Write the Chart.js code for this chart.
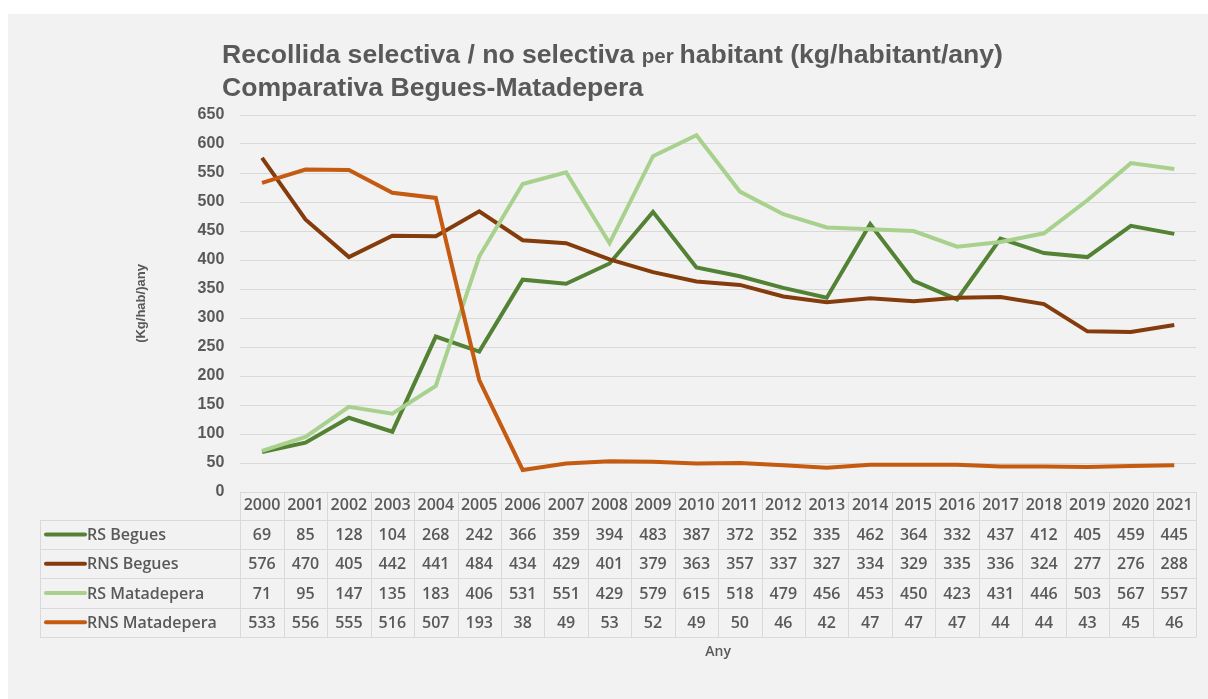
<!DOCTYPE html>
<html>
<head>
<meta charset="utf-8">
<script src="https://cdn.jsdelivr.net/npm/chart.js@4.4.1/dist/chart.umd.min.js"></script>
<style>
  html, body { margin: 0; padding: 0; background: #fff; }
  #wrap { position: absolute; left: 0; top: 0; width: 1208px; height: 699px; }
</style>
</head>
<body>
<div id="wrap"><canvas id="chart" width="1208" height="699"></canvas></div>
<script>
const years = ["2000", "2001", "2002", "2003", "2004", "2005", "2006", "2007", "2008", "2009", "2010",
  "2011", "2012", "2013", "2014", "2015", "2016", "2017", "2018", "2019", "2020", "2021"];
const rsBegues = [69, 85, 128, 104, 268, 242, 366, 359, 394, 483, 387, 372, 352, 335, 462, 364, 332, 437, 412, 405, 459, 445];
const rnsBegues = [576, 470, 405, 442, 441, 484, 434, 429, 401, 379, 363, 357, 337, 327, 334, 329, 335, 336, 324, 277, 276, 288];
const rsMatadepera = [71, 95, 147, 135, 183, 406, 531, 551, 429, 579, 615, 518, 479, 456, 453, 450, 423, 431, 446, 503, 567, 557];
const rnsMatadepera = [533, 556, 555, 516, 507, 193, 38, 49, 53, 52, 49, 50, 46, 42, 47, 47, 47, 44, 44, 43, 45, 46];

const seriesNames = ["RS Begues", "RNS Begues", "RS Matadepera", "RNS Matadepera"];
const seriesData = [rsBegues, rnsBegues, rsMatadepera, rnsMatadepera];
const seriesColors = ["#548235", "#843c0c", "#a9d18e", "#c55a11"];

const yMax = 650;
const yStep = 50;

const titleLine1 = ["Recollida selectiva / no selectiva ", "per ", "habitant (kg/habitant/any)"];
const titleLine2 = "Comparativa Begues-Matadepera";
const yTitle = "(Kg/hab/)any";
const xTitle = "Any";

const textColor = "#595959";
const gridColor = "#d9d9d9";
const tableFont = "600 16px 'Open Sans'";

const background = {
  id: "background",
  beforeDraw(chart) {
    const ctx = chart.ctx;
    ctx.save();
    ctx.fillStyle = "#ffffff";
    ctx.fillRect(0, 0, chart.width, chart.height);
    ctx.fillStyle = "#f2f2f2";
    ctx.fillRect(8, 14, chart.width - 8, chart.height - 14);
    ctx.restore();
  }
};

const titleBlock = {
  id: "titleBlock",
  afterDraw(chart) {
    const ctx = chart.ctx;
    ctx.save();
    ctx.fillStyle = textColor;
    ctx.textBaseline = "alphabetic";
    ctx.textAlign = "left";
    const big = "bold 26.6px 'Liberation Sans', Arial, sans-serif";
    const small = "bold 20.5px 'Liberation Sans', Arial, sans-serif";
    let x = 222;
    titleLine1.forEach((part, i) => {
      ctx.font = i === 1 ? small : big;
      ctx.fillText(part, x, 63);
      x += ctx.measureText(part).width;
    });
    ctx.font = big;
    ctx.fillText(titleLine2, 222, 96);
    ctx.restore();
  }
};

const dataTable = {
  id: "dataTable",
  afterDraw(chart) {
    const ctx = chart.ctx;
    const xs = chart.scales.x;
    const area = chart.chartArea;
    const colW = xs.getPixelForValue(1) - xs.getPixelForValue(0);
    const top = area.bottom;
    const headH = 28;
    const rowH = 29.2;
    const legendLeft = 40;
    const bottom = top + headH + rowH * seriesNames.length;

    ctx.save();
    ctx.strokeStyle = gridColor;
    ctx.lineWidth = 1;
    ctx.beginPath();
    ctx.moveTo(area.left, Math.round(top) + 0.5);
    ctx.lineTo(area.right, Math.round(top) + 0.5);
    for (let i = 0; i <= seriesNames.length; i++) {
      const y = Math.round(top + headH + i * rowH) + 0.5;
      ctx.moveTo(legendLeft, y);
      ctx.lineTo(area.right, y);
    }
    for (let j = 0; j <= years.length; j++) {
      const x = Math.round(xs.getPixelForValue(j) - colW / 2) + 0.5;
      ctx.moveTo(x, top);
      ctx.lineTo(x, bottom);
    }
    ctx.moveTo(legendLeft + 0.5, top + headH);
    ctx.lineTo(legendLeft + 0.5, bottom);
    ctx.stroke();

    ctx.font = tableFont;
    ctx.fillStyle = textColor;
    ctx.textBaseline = "middle";
    seriesNames.forEach((name, i) => {
      const cy = top + headH + i * rowH + rowH / 2;
      ctx.strokeStyle = seriesColors[i];
      ctx.lineWidth = 4;
      ctx.lineCap = "round";
      ctx.beginPath();
      ctx.moveTo(46, cy);
      ctx.lineTo(85, cy);
      ctx.stroke();
      ctx.textAlign = "left";
      ctx.fillText(name, 87, cy + 1);
      ctx.textAlign = "center";
      seriesData[i].forEach((v, j) => {
        ctx.fillText(String(v), xs.getPixelForValue(j), cy + 1);
      });
    });
    ctx.restore();
  }
};

new Chart(document.getElementById("chart"), {
  type: "line",
  data: {
    labels: years,
    datasets: seriesNames.map((name, i) => ({
      label: name,
      data: seriesData[i],
      borderColor: seriesColors[i],
      backgroundColor: seriesColors[i],
      borderWidth: 4,
      pointRadius: 0,
      tension: 0,
      order: seriesNames.length - i
    }))
  },
  options: {
    responsive: false,
    animation: false,
    layout: { padding: { left: 124, right: 12, top: 115, bottom: 39 } },
    plugins: {
      legend: { display: false },
      tooltip: { enabled: false },
      title: { display: false }
    },
    scales: {
      x: {
        offset: true,
        grid: { display: false, drawTicks: false },
        border: { display: false },
        ticks: {
          color: textColor,
          font: { family: "'Open Sans'", size: 16, weight: "600" },
          padding: 4,
          maxRotation: 0,
          autoSkip: false
        },
        title: {
          display: true,
          text: xTitle,
          color: textColor,
          font: { family: "'Open Sans'", size: 14, weight: "600" },
          padding: { top: 124, bottom: 0 }
        }
      },
      y: {
        min: 0,
        max: yMax,
        grid: { color: gridColor, lineWidth: 1, drawTicks: false },
        border: { display: false },
        ticks: {
          stepSize: yStep,
          color: textColor,
          font: { family: "'Liberation Sans', Arial, sans-serif", size: 16, weight: "bold" },
          padding: 16
        },
        title: {
          display: true,
          text: yTitle,
          color: textColor,
          font: { family: "'Liberation Sans', Arial, sans-serif", size: 13, weight: "bold" },
          padding: { top: 10, bottom: 32 }
        }
      }
    }
  },
  plugins: [background, titleBlock, dataTable]
});
</script>
</body>
</html>
